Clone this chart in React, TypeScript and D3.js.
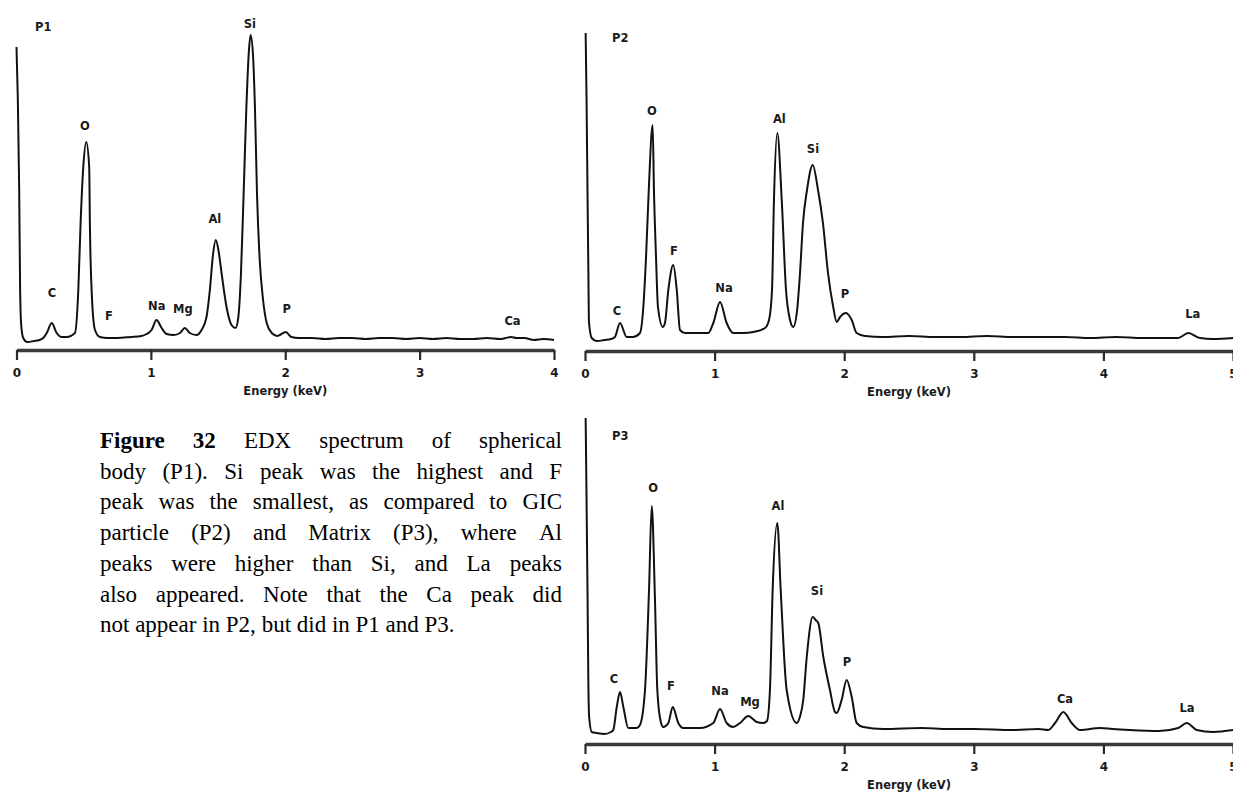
import { useEffect, useRef } from "react";
import * as d3 from "d3";

type Pt = [number, number];
type Label = [string, number, number];

// spectra: [energy keV, counts]
const p1Spectrum: Pt[] = [
  [0.0, 303], [0.01, 250], [0.02, 160], [0.027, 60], [0.035, 25], [0.05, 12], [0.08, 8], [0.13, 9],
  [0.17, 10], [0.199, 12], [0.225, 17], [0.262, 27], [0.299, 17], [0.336, 13], [0.373, 13], [0.435, 17],
  [0.46, 60], [0.477, 127], [0.497, 183], [0.519, 208], [0.541, 183], [0.546, 127], [0.559, 60], [0.584, 20],
  [0.621, 13], [0.68, 12], [0.75, 12], [0.85, 13], [0.93, 14], [0.968, 16], [1.005, 20], [1.042, 30],
  [1.08, 22], [1.117, 16], [1.17, 15], [1.216, 17], [1.253, 22], [1.29, 17], [1.34, 15], [1.377, 20],
  [1.414, 33], [1.439, 60], [1.462, 95], [1.483, 110], [1.505, 98], [1.526, 77], [1.563, 43], [1.6, 25],
  [1.63, 22], [1.65, 32], [1.67, 75], [1.69, 155], [1.71, 240], [1.73, 300], [1.742, 315], [1.76, 295],
  [1.775, 240], [1.79, 155], [1.81, 90], [1.835, 50], [1.862, 27], [1.9, 17], [1.94, 14], [1.959, 15],
  [2.004, 18], [2.046, 13], [2.1, 12], [2.2, 12], [2.3, 11], [2.4, 12], [2.5, 12], [2.6, 11],
  [2.7, 12], [2.8, 12], [2.9, 11], [3.0, 12], [3.1, 11], [3.2, 12], [3.3, 11], [3.4, 11],
  [3.5, 12], [3.6, 11], [3.64, 12], [3.682, 13], [3.72, 12], [3.78, 12], [3.85, 10], [3.92, 11], [4.0, 10],
];

const p2Spectrum: Pt[] = [
  [0.005, 318], [0.012, 251], [0.02, 151], [0.026, 80], [0.03, 30], [0.052, 13], [0.09, 10], [0.15, 11],
  [0.2, 12], [0.231, 14], [0.27, 28], [0.322, 14], [0.37, 14], [0.424, 18], [0.45, 44], [0.471, 94],
  [0.492, 161], [0.522, 226], [0.532, 161], [0.548, 94], [0.563, 44], [0.6, 24], [0.617, 28], [0.643, 61],
  [0.681, 86], [0.708, 61], [0.733, 21], [0.772, 18], [0.85, 18], [0.951, 18], [0.99, 28], [1.042, 49],
  [1.093, 28], [1.144, 18], [1.22, 18], [1.299, 19], [1.389, 23], [1.42, 31], [1.443, 61], [1.458, 151],
  [1.484, 218], [1.518, 151], [1.551, 61], [1.582, 31], [1.607, 24], [1.636, 40], [1.659, 78], [1.682, 128],
  [1.713, 161], [1.757, 186], [1.798, 161], [1.836, 128], [1.875, 78], [1.914, 45], [1.942, 29], [1.968, 34],
  [2.014, 38], [2.058, 31], [2.096, 18], [2.16, 15], [2.3, 14], [2.5, 15], [2.7, 14], [2.9, 14],
  [3.1, 15], [3.3, 14], [3.5, 14], [3.7, 14], [3.9, 13], [4.1, 14], [4.3, 13], [4.5, 13],
  [4.576, 13], [4.655, 18], [4.745, 13], [4.846, 12], [5.0, 13],
];

const p3Spectrum: Pt[] = [
  [0.005, 326], [0.012, 244], [0.02, 144], [0.026, 60], [0.032, 27], [0.052, 12], [0.09, 11], [0.15, 10],
  [0.2, 12], [0.218, 14], [0.245, 37], [0.27, 52], [0.296, 37], [0.334, 16], [0.399, 16], [0.424, 19],
  [0.463, 54], [0.494, 154], [0.515, 238], [0.54, 144], [0.558, 54], [0.585, 22], [0.604, 17], [0.643, 21],
  [0.677, 37], [0.72, 21], [0.758, 16], [0.887, 16], [0.99, 21], [1.042, 35], [1.093, 21], [1.144, 17],
  [1.196, 21], [1.26, 28], [1.325, 22], [1.376, 21], [1.404, 23], [1.427, 54], [1.448, 154], [1.484, 221],
  [1.51, 154], [1.556, 54], [1.634, 21], [1.66, 28], [1.684, 44], [1.711, 87], [1.757, 127], [1.78, 124],
  [1.8, 121], [1.839, 87], [1.89, 54], [1.929, 32], [1.942, 31], [1.98, 44], [2.019, 64], [2.058, 47],
  [2.096, 21], [2.147, 17], [2.3, 15], [2.6, 16], [2.8, 15], [3.0, 15], [3.3, 14], [3.5, 15],
  [3.575, 14], [3.627, 21], [3.691, 32], [3.755, 21], [3.819, 14], [3.974, 16], [4.07, 15], [4.2, 14],
  [4.43, 13], [4.578, 16], [4.643, 21], [4.72, 14], [4.846, 12], [5.0, 14],
];

// peak labels: element, energy, count level of the text baseline
const p1Labels: Label[] = [
  ["Si", 1.736, 322], ["O", 0.509, 220], ["C", 0.264, 53], ["F", 0.688, 30], ["Na", 1.044, 40],
  ["Mg", 1.238, 37], ["Al", 1.476, 127], ["P", 2.011, 37], ["Ca", 3.691, 25],
];
const p2Labels: Label[] = [
  ["O", 0.517, 236], ["Al", 1.5, 228], ["Si", 1.759, 198], ["F", 0.687, 96], ["Na", 1.073, 59],
  ["C", 0.247, 36], ["P", 2.006, 53], ["La", 4.69, 33],
];
const p3Labels: Label[] = [
  ["O", 0.525, 252], ["Al", 1.489, 234], ["Si", 1.79, 149], ["C", 0.224, 61], ["F", 0.664, 54],
  ["Na", 1.042, 49], ["Mg", 1.273, 38], ["P", 2.022, 78], ["Ca", 3.704, 41], ["La", 4.645, 32],
];

const p1Ticks = [0, 1, 2, 3, 4];
const p23Ticks = [0, 1, 2, 3, 4, 5];
const axisTitle = "Energy (keV)";

const captionLines = [
  "Figure 32 EDX spectrum of spherical",
  "body (P1). Si peak was the highest and F",
  "peak was the smallest, as compared to GIC",
  "particle (P2) and Matrix (P3), where Al",
  "peaks were higher than Si, and La peaks",
  "also appeared. Note that the Ca peak did",
  "not appear in P2, but did in P1 and P3.",
];
const captionBoldWords = 2;

const W = 1233;
const H = 792;
const chartFont = "'DejaVu Sans', Verdana, sans-serif";

const panels = [
  { name: "P1", data: p1Spectrum, labels: p1Labels, ticks: p1Ticks, x0: 16.5, x1: 554, axisY: 350, nameX: 35, nameY: 31 },
  { name: "P2", data: p2Spectrum, labels: p2Labels, ticks: p23Ticks, x0: 585, x1: 1233, axisY: 351, nameX: 612, nameY: 42 },
  { name: "P3", data: p3Spectrum, labels: p3Labels, ticks: p23Ticks, x0: 585, x1: 1233, axisY: 744, nameX: 612, nameY: 440 },
];

export default function App() {
  const svgRef = useRef<SVGSVGElement>(null);

  useEffect(() => {
    const svg = d3.select(svgRef.current);
    svg.selectAll("*").remove();

    panels.forEach((p) => {
      const xMax = p.ticks[p.ticks.length - 1];
      const x = d3.scaleLinear().domain([0, xMax]).range([p.x0, p.x1]);
      const y = d3.scaleLinear().domain([0, 330]).range([p.axisY, p.axisY - 330]);
      const g = svg.append("g");

      // axis
      const axis = d3.axisBottom(x).tickValues(p.ticks).tickSize(10).tickSizeOuter(0).tickPadding(8).tickFormat(d3.format("d"));
      const ag = g.append("g").attr("transform", `translate(0,${p.axisY})`).call(axis);
      ag.select(".domain").attr("stroke", "#3a3a3a").attr("stroke-width", 3.5);
      ag.selectAll(".tick line").attr("stroke", "#2a2a2a").attr("stroke-width", 2.2);
      ag.selectAll(".tick text")
        .attr("fill", "#1a1a1a")
        .style("font-family", chartFont)
        .style("font-size", "12px")
        .style("font-weight", "bold");

      g.append("text")
        .attr("x", x(xMax / 2))
        .attr("y", p.axisY + 45)
        .attr("text-anchor", "middle")
        .attr("fill", "#1a1a1a")
        .style("font-family", chartFont)
        .style("font-size", "11.5px")
        .style("font-weight", "bold")
        .text(axisTitle);

      // spectrum
      const line = d3.line<Pt>().x((d) => x(d[0])).y((d) => y(d[1])).curve(d3.curveMonotoneX);
      g.append("path")
        .datum(p.data)
        .attr("d", line)
        .attr("fill", "none")
        .attr("stroke", "#111")
        .attr("stroke-width", 2)
        .attr("stroke-linejoin", "round");

      // peak labels
      g.selectAll(".peak")
        .data(p.labels)
        .join("text")
        .attr("class", "peak")
        .attr("x", (d) => x(d[1]))
        .attr("y", (d) => y(d[2]))
        .attr("text-anchor", "middle")
        .attr("fill", "#1a1a1a")
        .style("font-family", chartFont)
        .style("font-size", "11.5px")
        .style("font-weight", "bold")
        .text((d) => d[0]);

      g.append("text")
        .attr("x", p.nameX)
        .attr("y", p.nameY)
        .attr("fill", "#1a1a1a")
        .style("font-family", chartFont)
        .style("font-size", "11.5px")
        .style("font-weight", "bold")
        .text(p.name);
    });

    // caption, justified
    const cx0 = 100;
    const cx1 = 562;
    const cap = svg.append("g").style("font-family", "'Liberation Serif', 'Times New Roman', serif").style("font-size", "23px").attr("fill", "#000");
    let wordIndex = 0;
    captionLines.forEach((lineText, i) => {
      const yb = 448 + i * 30.7;
      const words = lineText.split(" ");
      const nodes = words.map((w) => {
        const t = cap.append("text").attr("y", yb).text(w);
        if (wordIndex < captionBoldWords) t.style("font-weight", "bold");
        wordIndex++;
        return t;
      });
      const widths = nodes.map((t) => (t.node() as SVGTextElement).getComputedTextLength());
      const total = d3.sum(widths);
      const last = i === captionLines.length - 1;
      const spaceW = 5.75;
      const gap = last ? spaceW : Math.max(2, (cx1 - cx0 - total) / (words.length - 1));
      let xp = cx0;
      nodes.forEach((t, k) => {
        t.attr("x", xp);
        xp += widths[k] + gap;
      });
    });
  }, []);

  return (
    <svg
      ref={svgRef}
      width={W}
      height={H}
      style={{ position: "absolute", left: 0, top: 0, background: "#fff" }}
    />
  );
}
